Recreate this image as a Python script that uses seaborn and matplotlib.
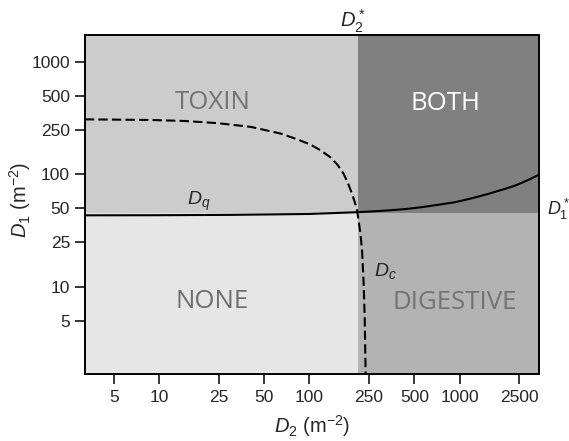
import matplotlib
matplotlib.use("Agg")
import matplotlib.pyplot as plt
import matplotlib.transforms as mtrans
from matplotlib.ticker import NullLocator
import numpy as np
import pandas as pd
import seaborn as sns

# ---------------- data ----------------
d2_star = 210.0   # threshold D2*
d1_star = 45.0    # threshold D1*

x_ticks = [5, 10, 25, 50, 100, 250, 500, 1000, 2500]
y_ticks = [5, 10, 25, 50, 100, 250, 500, 1000]

# dashed curve D_c
dc_d2 = [3.2, 8.8, 14.7, 24.5, 40.8, 64.7, 82.9, 101.6, 118.4, 138, 154.5, 169.4,
         181.2, 192.7, 200.5, 208, 218.8, 224.5, 230, 233.7, 237.3]
dc_d1 = [308, 304, 298, 285, 264, 230, 205, 184, 164, 142, 121, 101,
         83, 67, 57, 48, 30, 21, 10.7, 5.4, 1.6]

# solid curve D_q
dq_d2 = [3.2, 10, 30, 100, 212, 262, 338, 436, 564, 728, 940, 1216, 1567,
         2026, 2362, 2898, 3415]
dq_d1 = [43.3, 43.4, 43.7, 44.5, 46.2, 46.9, 47.9, 49.2, 51.2, 53.8, 56.7, 61.5,
         67.3, 74.6, 79.8, 89.7, 100]

regions = ["TOXIN", "BOTH", "NONE", "DIGESTIVE"]

# ---------------- style ----------------
sns.set_style("white")
plt.rcParams["font.family"] = ["Liberation Sans", "DejaVu Sans"]
plt.rcParams["mathtext.fontset"] = "custom"
plt.rcParams["mathtext.rm"] = "Liberation Sans"
plt.rcParams["mathtext.it"] = "Liberation Sans:italic"
plt.rcParams["mathtext.bf"] = "Liberation Sans:bold"

fig = plt.figure(figsize=(5.69, 4.41), dpi=100)
ax = fig.add_axes([0.1494, 0.152, 0.7979, 0.7686])
ax.set_xscale("log")
ax.set_yscale("log")
xmin, xmax = 3.21, 3383
ymin, ymax = 1.69, 1727
ax.set_xlim(xmin, xmax)
ax.set_ylim(ymin, ymax)

# regions
ax.fill_between([xmin, d2_star], d1_star, ymax, color="#cccccc", lw=0, zorder=0)
ax.fill_between([d2_star, xmax], d1_star, ymax, color="#808080", lw=0, zorder=0)
ax.fill_between([xmin, d2_star], ymin, d1_star, color="#e6e6e6", lw=0, zorder=0)
ax.fill_between([d2_star, xmax], ymin, d1_star, color="#b3b3b3", lw=0, zorder=0)

# curves
dc = pd.DataFrame({"D2": dc_d2, "D1": dc_d1})
dq = pd.DataFrame({"D2": dq_d2, "D1": dq_d1})
sns.lineplot(data=dc, x="D2", y="D1", ax=ax, color="black", lw=1.5,
             estimator=None, sort=False, zorder=3)
ax.lines[-1].set_dashes([4.5, 2])
sns.lineplot(data=dq, x="D2", y="D1", ax=ax, color="black", lw=1.5,
             estimator=None, sort=False, zorder=3)

# region labels
lab_kw = dict(family="Open Sans", fontsize=18.5, ha="center", va="baseline", zorder=4)
ax.text(22.6, 384, regions[0], color="#737373", **lab_kw)
ax.text(807, 371, regions[1], color="white", **lab_kw)
ax.text(22.6, 6.48, regions[2], color="#6e6e6e", **lab_kw)
ax.text(922, 6.4, regions[3], color="#737373", **lab_kw)

# curve labels
ax.text(15.3, 54, r"$D_q$", fontsize=14, ha="left", va="baseline", zorder=4)
ax.text(268, 12.6, r"$D_c$", fontsize=14, ha="left", va="baseline", zorder=4)

# threshold labels outside axes
tr_x = mtrans.blended_transform_factory(ax.transData, ax.transAxes)
tr_y = mtrans.blended_transform_factory(ax.transAxes, ax.transData)
ax.text(161, 1.0236, r"$D_2^*$", fontsize=14.5, ha="left", va="baseline",
        transform=tr_x, clip_on=False)
ax.text(1.0165, 44, r"$D_1^*$", fontsize=13, ha="left", va="baseline",
        transform=tr_y, clip_on=False)

# ticks
ax.set_xticks(x_ticks)
ax.set_xticklabels([str(v) for v in x_ticks])
ax.set_yticks(y_ticks)
ax.set_yticklabels([str(v) for v in y_ticks])
ax.xaxis.set_minor_locator(NullLocator())
ax.yaxis.set_minor_locator(NullLocator())
ax.tick_params(axis="x", direction="out", length=7.2, width=1.1, labelsize=12.5,
               pad=4.3, color="black", bottom=True)
ax.tick_params(axis="y", direction="out", length=7.2, width=1.1, labelsize=12.5,
               pad=3.6, color="black", left=True)
for s in ax.spines.values():
    s.set_color("black")
    s.set_linewidth(1.4)

ax.set_xlabel(r"$D_2$ (m$^{-2}$)", fontsize=14.5)
ax.set_ylabel(r"$D_1$ (m$^{-2}$)", fontsize=14.5)
ax.xaxis.set_label_coords(0.5, -0.116)
ax.yaxis.set_label_coords(-0.114, 0.513)

fig.savefig("out.png", dpi=100)
